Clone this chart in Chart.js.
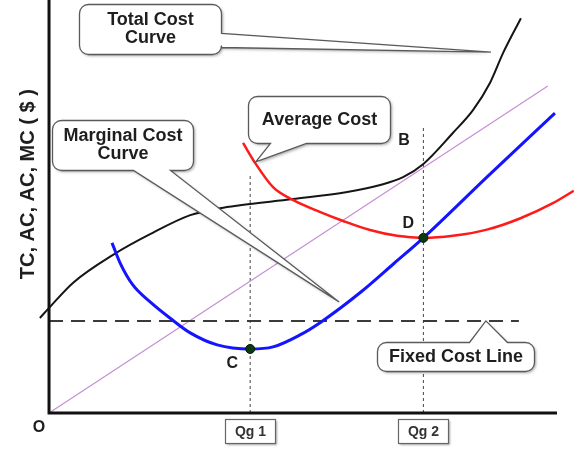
<!DOCTYPE html>
<html>
<head>
<meta charset="utf-8">
<script src="https://cdn.jsdelivr.net/npm/chart.js@4.4.1/dist/chart.umd.min.js"></script>
<style>
  html, body { margin: 0; padding: 0; background: #ffffff; }
  #wrap { width: 574px; height: 455px; }
</style>
</head>
<body>
<div id="wrap"><canvas id="c" width="574" height="455"></canvas></div>
<script>
// ---- data (quantity on x, cost in $ on y, both in relative units) ----
const tcQty  = [-1.8, 0.2, 4.7, 12.6, 19.9, 27.8, 33.7, 37.6, 48.0, 58.7, 65.2, 69.7, 73.7, 79.5, 83.5, 86.8, 89.4, 92.9];
const tcCost = [23.0, 25.7, 31.5, 38.3, 43.3, 47.9, 49.6, 50.3, 51.8, 53.5, 55.2, 57.1, 60.3, 67.8, 73.4, 79.9, 87.2, 95.6];

const acQty  = [38.2, 40.6, 44.1, 48.0, 53.3, 57.9, 63.2, 68.5, 73.7, 79.5, 86.2, 92.7, 99.2, 103.3];
const acCost = [65.4, 60.5, 54.7, 51.6, 48.7, 46.5, 44.3, 42.9, 42.4, 42.9, 44.4, 47.1, 50.8, 53.8];

const mcQty  = [12.4, 14.0, 16.5, 19.9, 23.8, 27.8, 33.1, 39.6, 44.1, 49.4, 53.5, 61.4, 67.9, 73.7, 86.2, 99.6];
const mcCost = [41.2, 36.3, 31.0, 26.9, 23.0, 19.4, 16.5, 15.5, 16.0, 18.9, 22.0, 29.3, 36.2, 42.4, 57.1, 72.6];

const rayQty  = [0, 98.2];
const rayCost = [0, 79.2];

const fixedQty  = [0, 92.5];
const fixedCost = [22.3, 22.3];

const qgLabels = ["Qg 1", "Qg 2"];
const qgQty    = [39.6, 73.7];
const qgTop    = [57.6, 69.2];

const keyLabels = ["C", "D"];
const keyQty    = [39.6, 73.7];
const keyCost   = [15.5, 42.4];

const yTitle = "TC, AC, AC, MC ( $ )";

// ---- helpers ----
const pts = (xs, ys) => xs.map((x, i) => ({ x: x, y: ys[i] }));
const FONT = '"Liberation Sans", Arial, sans-serif';

const datasets = [
  { label: 'C/D', data: pts(keyQty, keyCost), showLine: false, pointRadius: 4.5,
    pointBackgroundColor: '#0b3a12', pointBorderColor: '#061a08', pointBorderWidth: 1, order: 0 },
  { label: 'MC', data: pts(mcQty, mcCost), showLine: true, borderColor: '#1414ff', borderWidth: 3,
    pointRadius: 0, cubicInterpolationMode: 'monotone', order: 1 },
  { label: 'AC', data: pts(acQty, acCost), showLine: true, borderColor: '#ff1a1a', borderWidth: 2.5,
    pointRadius: 0, cubicInterpolationMode: 'monotone', order: 2 },
  { label: 'TC', data: pts(tcQty, tcCost), showLine: true, borderColor: '#151515', borderWidth: 2,
    pointRadius: 0, cubicInterpolationMode: 'monotone', order: 3 },
  { label: 'Fixed', data: pts(fixedQty, fixedCost), showLine: true, borderColor: '#3a3a3a', borderWidth: 2,
    borderDash: [14, 8], pointRadius: 0, order: 4 },
  { label: 'Ray', data: pts(rayQty, rayCost), showLine: true, borderColor: '#c68fd2', borderWidth: 1.2,
    pointRadius: 0, order: 5 }
];
qgQty.forEach((q, i) => {
  datasets.push({ label: qgLabels[i] + ' line', data: [{ x: q, y: 0 }, { x: q, y: qgTop[i] }], showLine: true,
    borderColor: '#444', borderWidth: 1, borderDash: [3, 3], pointRadius: 0, order: 6 });
});

// callouts: anchor (box top-left) and tail tip in data units, sizes in px
const callouts = [
  { lines: ["Total Cost", "Curve"], ax: 5.9, ay: 99.0, w: 142, h: 50, side: 'right', b1: 29, b2: 43, tx: 87.0, ty: 87.4 },
  { lines: ["Average Cost"], ax: 39.2, ay: 76.8, w: 142, h: 47, side: 'bottom', b1: 22, b2: 58, tx: 40.7, ty: 60.8 },
  { lines: ["Marginal Cost", "Curve"], ax: 0.6, ay: 70.9, w: 141, h: 50, side: 'bottom', b1: 81, b2: 118, tx: 57.1, ty: 26.9 },
  { lines: ["Fixed Cost Line"], ax: 64.6, ay: 17.2, w: 157, h: 29, side: 'top', b1: 92, b2: 130, tx: 86.0, ty: 22.3 }
];

function calloutPath(ctx, x, y, w, h, r, c, tip) {
  ctx.beginPath();
  ctx.moveTo(x + r, y);
  if (c.side === 'top') { ctx.lineTo(x + c.b1, y); ctx.lineTo(tip.x, tip.y); ctx.lineTo(x + c.b2, y); }
  ctx.lineTo(x + w - r, y);
  ctx.arcTo(x + w, y, x + w, y + r, r);
  if (c.side === 'right') { ctx.lineTo(x + w, y + c.b1); ctx.lineTo(tip.x, tip.y); ctx.lineTo(x + w, y + c.b2); }
  ctx.lineTo(x + w, y + h - r);
  ctx.arcTo(x + w, y + h, x + w - r, y + h, r);
  if (c.side === 'bottom') { ctx.lineTo(x + c.b2, y + h); ctx.lineTo(tip.x, tip.y); ctx.lineTo(x + c.b1, y + h); }
  ctx.lineTo(x + r, y + h);
  ctx.arcTo(x, y + h, x, y + h - r, r);
  ctx.lineTo(x, y + r);
  ctx.arcTo(x, y, x + r, y, r);
  ctx.closePath();
}

const overlay = {
  id: 'overlay',
  afterDatasetsDraw(chart) {
    const ctx = chart.ctx, xs = chart.scales.x, ys = chart.scales.y;
    const X = v => xs.getPixelForValue(v), Y = v => ys.getPixelForValue(v);
    ctx.save();

    // callouts
    callouts.forEach(c => {
      const x = Math.round(X(c.ax)) + 0.5, y = Math.round(Y(c.ay)) + 0.5;
      const tip = { x: X(c.tx), y: Y(c.ty) };
      ctx.save();
      ctx.shadowColor = 'rgba(0,0,0,0.35)';
      ctx.shadowBlur = 3; ctx.shadowOffsetX = 1.5; ctx.shadowOffsetY = 1.5;
      calloutPath(ctx, x, y, c.w, c.h, 9, c, tip);
      ctx.fillStyle = '#ffffff';
      ctx.fill();
      ctx.restore();
      calloutPath(ctx, x, y, c.w, c.h, 9, c, tip);
      ctx.fillStyle = '#ffffff';
      ctx.fill();
      ctx.lineWidth = 1.3;
      ctx.strokeStyle = '#5a5a5a';
      ctx.stroke();
      ctx.fillStyle = '#1e1e1e';
      ctx.font = 'bold 18px ' + FONT;
      ctx.textAlign = 'center';
      ctx.textBaseline = 'middle';
      const cx = x + c.w / 2, cy = y + c.h / 2;
      const lh = 18;
      c.lines.forEach((t, i) => {
        ctx.fillText(t, cx, cy + (i - (c.lines.length - 1) / 2) * lh);
      });
    });

    // axes
    ctx.strokeStyle = '#111';
    ctx.lineWidth = 3;
    ctx.beginPath();
    ctx.moveTo(X(0), Y(100));
    ctx.lineTo(X(0), Y(0));
    ctx.lineTo(X(100), Y(0));
    ctx.stroke();

    // Qg boxes
    qgQty.forEach((q, i) => {
      const bx = Math.round(X(q) - 25) + 0.5, by = Math.round(Y(0) + 6) + 0.5;
      ctx.save();
      ctx.shadowColor = 'rgba(0,0,0,0.35)';
      ctx.shadowBlur = 2; ctx.shadowOffsetX = 1.5; ctx.shadowOffsetY = 1.5;
      ctx.fillStyle = '#fff';
      ctx.fillRect(bx, by, 50, 24);
      ctx.restore();
      ctx.strokeStyle = '#666';
      ctx.lineWidth = 1.2;
      ctx.strokeRect(bx, by, 50, 24);
      ctx.fillStyle = '#333';
      ctx.font = 'bold 14px ' + FONT;
      ctx.textAlign = 'center';
      ctx.textBaseline = 'middle';
      ctx.fillText(qgLabels[i], bx + 25, by + 12.5);
    });

    // point labels
    ctx.fillStyle = '#1e1e1e';
    ctx.font = 'bold 16px ' + FONT;
    ctx.textAlign = 'center';
    ctx.textBaseline = 'middle';
    ctx.fillText('B', X(69.9), Y(65.9));
    ctx.fillText(keyLabels[1], X(keyQty[1]) - 15, Y(keyCost[1]) - 14);
    ctx.fillText(keyLabels[0], X(keyQty[0]) - 18, Y(keyCost[0]) + 15);
    ctx.fillText('O', X(0) - 10, Y(0) + 15);

    // y-axis title
    ctx.save();
    ctx.translate(28, Y(55.4));
    ctx.rotate(-Math.PI / 2);
    ctx.font = 'bold 20px ' + FONT;
    ctx.fillStyle = '#1e1e1e';
    ctx.fillText(yTitle, 0, 0);
    ctx.restore();

    ctx.restore();
  }
};

new Chart(document.getElementById('c'), {
  type: 'scatter',
  data: { datasets: datasets },
  options: {
    responsive: false,
    animation: false,
    devicePixelRatio: 1,
    layout: { padding: 0, autoPadding: false },
    plugins: { legend: { display: false }, tooltip: { enabled: false } },
    scales: {
      x: { type: 'linear', min: -9.65, max: 103.35, display: false },
      y: { type: 'linear', min: -10.17, max: 100, display: false }
    }
  },
  plugins: [overlay]
});
</script>
</body>
</html>
